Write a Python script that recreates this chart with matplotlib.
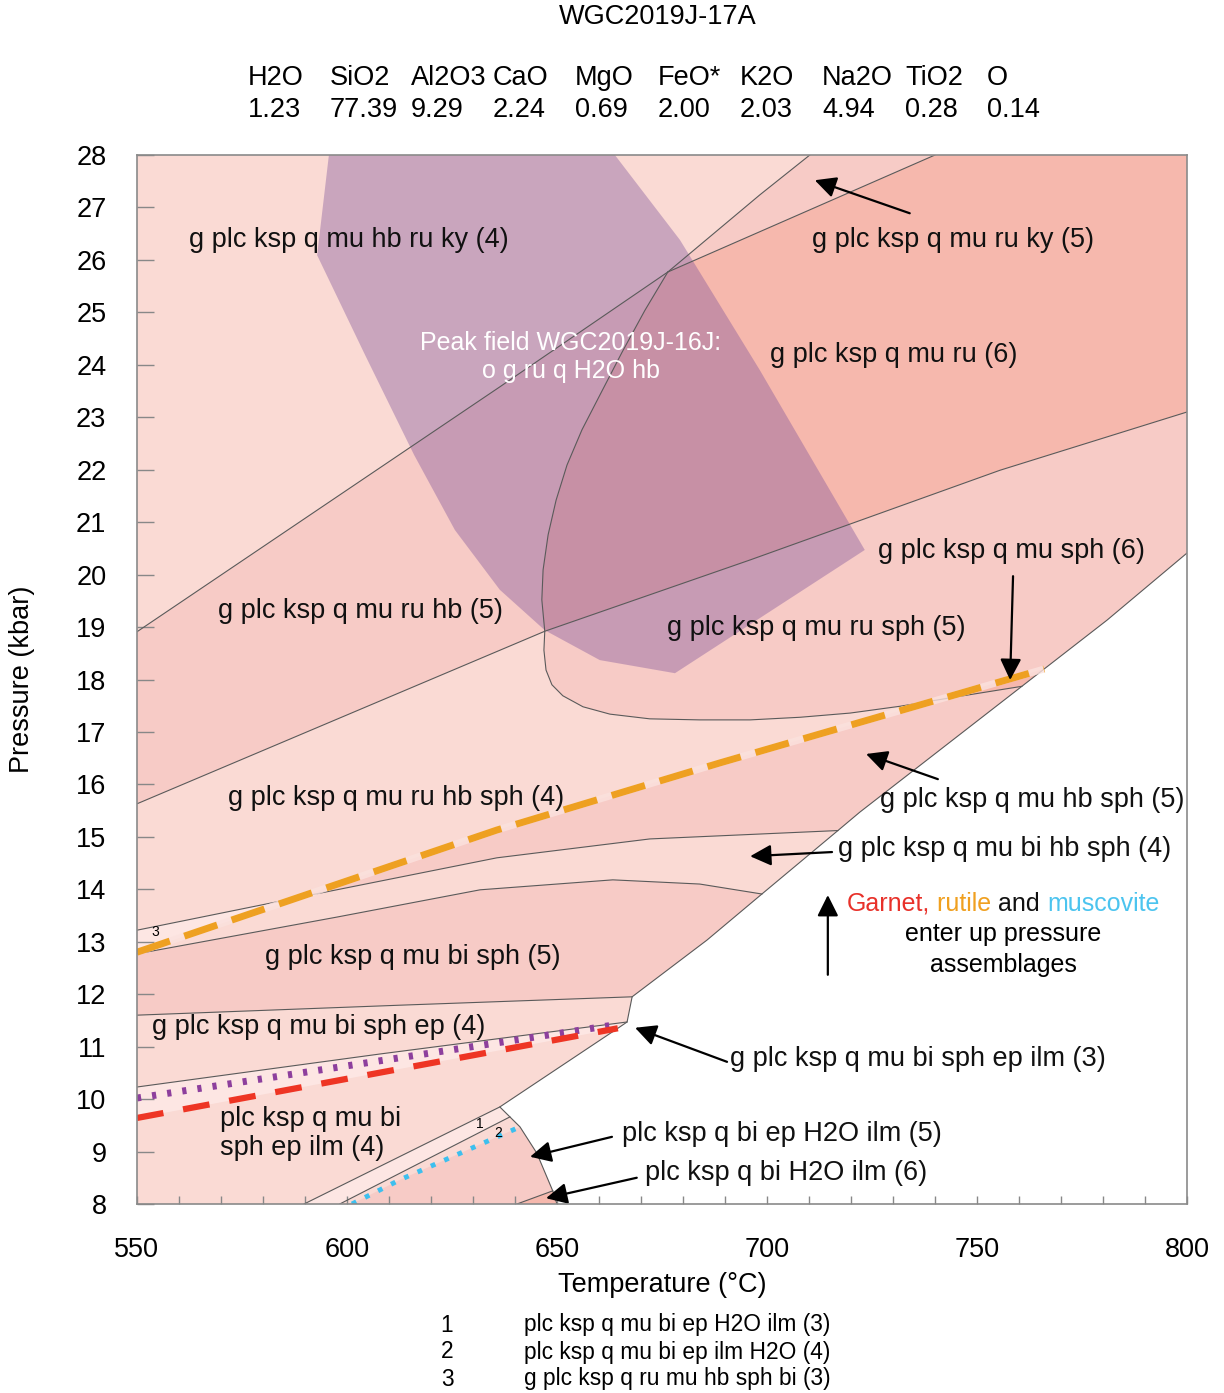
import numpy as np
import matplotlib
matplotlib.use('Agg')
import matplotlib.pyplot as plt
from matplotlib.patches import Polygon

plt.rcParams['font.family'] = ['Liberation Sans', 'DejaVu Sans']

# bulk composition header
oxides = ['H2O', 'SiO2', 'Al2O3', 'CaO', 'MgO', 'FeO*', 'K2O', 'Na2O', 'TiO2', 'O']
amounts = ['1.23', '77.39', '9.29', '2.24', '0.69', '2.00', '2.03', '4.94', '0.28', '0.14']

# field boundaries: T (C), P (kbar)
a_T = [550, 636.4, 676.4, 698.3, 710.2]
a_P = [18.91, 23.58, 25.77, 27.24, 28.0]
c_T = [676.4, 740.0]
c_P = [25.77, 28.0]
b_T = [550, 647.1, 696.0, 755.5, 800]
b_P = [15.63, 18.92, 20.28, 21.99, 23.10]
bell_T = [676.4, 670.95, 665.5, 660.2, 655.95, 652.4, 649.8, 647.9, 646.7, 646.4,
          647.1, 646.9, 647.4, 648.8, 651.4, 656.2, 662.6, 672.1, 684.0, 696.0,
          707.9, 719.8, 731.7, 743.6, 760.7]
bell_P = [25.77, 25.04, 24.24, 23.42, 22.76, 22.09, 21.42, 20.76, 20.09, 19.52,
          18.92, 18.56, 18.18, 17.90, 17.69, 17.48, 17.34, 17.25, 17.23, 17.23,
          17.28, 17.36, 17.49, 17.65, 17.87]
ru_T = [550, 635.7, 688.8, 766.0]          # rutile out (orange)
ru_P = [12.80, 15.13, 16.41, 18.20]
l1_T = [550, 588.8, 635.7, 672.1, 716.9]
l1_P = [13.22, 13.85, 14.60, 14.96, 15.12]
l2_T = [550, 597.6, 631.7, 663.3, 684.0, 698.8]
l2_P = [12.77, 13.47, 13.99, 14.18, 14.10, 13.91]
l3_T = [550, 612.6, 667.9]
l3_P = [11.60, 11.79, 11.95]
l4_T = [550, 607.9, 666.7]
l4_P = [10.23, 10.86, 11.47]
g_T = [550, 664.5]                          # garnet out (red)
g_P = [9.64, 11.35]
pur_T = [550, 663.3]                        # purple dotted
pur_P = [10.02, 11.41]
l5_T = [589.8, 636.4]
l5_P = [8.0, 9.85]
l6_T = [598.3, 638.8]
l6_P = [8.0, 9.66]
mu_T = [601.2, 612.6, 641.2]                # muscovite out (cyan)
mu_P = [8.0, 8.46, 9.47]
l7_T = [640.5, 649.0]
l7_P = [8.0, 8.25]
edge_T = [800, 780.95, 766.0, 760.7, 722.1, 716.9, 698.8, 685.7, 667.9,
          666.7, 664.5, 636.4, 638.8, 641.2, 645.2, 649.0, 650.0]
edge_P = [20.41, 19.13, 18.20, 17.87, 15.47, 15.12, 13.91, 13.03, 11.95,
          11.47, 11.35, 9.85, 9.66, 9.47, 8.97, 8.25, 8.0]
peak_T = [595.7, 592.9, 604.3, 616.0, 625.7, 636.4, 647.1, 660.2, 678.1,
          723.3, 698.3, 679.3, 663.8]
peak_P = [28.0, 26.09, 24.19, 22.28, 20.85, 19.71, 18.94, 18.37, 18.12,
          20.47, 23.90, 26.38, 28.0]

V3, V4, V5, V6 = '#fde6e3', '#fadad4', '#f7cbc6', '#f6b8ad'
Q2 = 10   # index of the bell curve point lying on line b


def pts(T, P):
    return np.column_stack([T, P])


def cross(t1, p1, t2, p2):
    tt = np.linspace(max(t1[0], t2[0]), min(t1[-1], t2[-1]), 4000)
    d = np.interp(tt, t1, p1) - np.interp(tt, t2, p2)
    i = np.where(np.diff(np.sign(d)) != 0)[0][0]
    return tt[i], np.interp(tt[i], t1, p1)


fig = plt.figure(figsize=(12.24, 13.93), dpi=100)
ax = fig.add_axes([0.1119, 0.1357, 0.8578, 0.7530])
ax.set_xlim(550, 800)
ax.set_ylim(8, 28)

# stable area (white beyond the right edge)
stable = Polygon(np.vstack([[(550, 8), (550, 28), (800, 28)], pts(edge_T, edge_P)]),
                 closed=True, fc=V4, ec='none', zorder=0)
ax.add_patch(stable)


def fill(xy, color, z=1, **kw):
    p = Polygon(xy, closed=True, fc=color, ec='none', zorder=z, **kw)
    ax.add_patch(p)
    p.set_clip_path(stable)


bT, bP = np.array(b_T), np.array(b_P)
eT, eP = np.array(bell_T), np.array(bell_P)
rT, rP = np.array(ru_T), np.array(ru_P)
t1, p1 = np.array(l1_T), np.array(l1_P)
rbT, rbP = eT[Q2 + 1:], eP[Q2 + 1:]     # lower-right branch of the bell curve

# g plc ksp q mu ru hb (5)
fill(np.vstack([pts(a_T[:3], a_P[:3]), pts(eT[1:Q2 + 1], eP[1:Q2 + 1]), pts(bT[:1], bP[:1])]), V5)
# g plc ksp q mu ru ky (5)
fill(np.vstack([pts(a_T[2:], a_P[2:]), pts(c_T[::-1], c_P[::-1])]), V5)
# g plc ksp q mu ru (6)
fill(np.vstack([pts(c_T, c_P), [(800, 28)], pts(bT[:0:-1], bP[:0:-1]),
                pts(eT[Q2::-1], eP[Q2::-1])]), V6)
# g plc ksp q mu ru sph (5)
fill(np.vstack([pts(bT[1:], bP[1:]), [(800, eP[-1])], pts(eT[:Q2 - 1:-1], eP[:Q2 - 1:-1])]), V5)

# rutile-out crossings
x1 = cross(l1_T, l1_P, ru_T, ru_P)
x2 = cross(rbT, rbP, ru_T, ru_P)

# g plc ksp q mu hb sph (5)
fill(np.vstack([[x1], pts(rT[rT > x1[0]], rP[rT > x1[0]]), [(800, rP[-1]), (800, p1[-1])],
                pts(t1[t1 > x1[0]][::-1], p1[t1 > x1[0]][::-1])]), V5)
# g plc ksp q mu sph (6)
sel = rbT > x2[0]
fill(np.vstack([[x2], pts(rT[rT > x2[0]], rP[rT > x2[0]]),
                pts(rbT[sel][::-1], rbP[sel][::-1])]), V6)
# field 3
fill(np.vstack([pts(t1[t1 < x1[0]], p1[t1 < x1[0]]), [x1],
                pts(rT[rT < x1[0]][::-1], rP[rT < x1[0]][::-1])]), V3)
# g plc ksp q mu bi sph (5)
fill(np.vstack([pts(l2_T, l2_P), [(800, l2_P[-1]), (800, l3_P[-1])],
                pts(l3_T[::-1], l3_P[::-1])]), V5)
# g plc ksp q mu bi sph ep ilm (3)
fill(np.vstack([pts(l4_T, l4_P), pts(g_T[::-1], g_P[::-1])]), V3)
# field 1
fill(np.vstack([pts(l5_T, l5_P), pts(l6_T[::-1], l6_P[::-1])]), V3)
# plc ksp q bi ep H2O ilm (5)
fill(np.vstack([pts(mu_T, mu_P), [(660, mu_P[-1]), (660, 8.0)]]), V5)
# plc ksp q bi H2O ilm (6)
fill(np.vstack([pts(l7_T, l7_P), [(660, l7_P[-1]), (660, 8.0)]]), V6)

# peak field of WGC2019J-16J
fill(pts(peak_T, peak_P), '#7b4f98', z=2, alpha=0.38)

# thin field boundaries
for T, P in [(a_T, a_P), (c_T, c_P), (b_T, b_P), (bell_T, bell_P), (l1_T, l1_P),
             (l2_T, l2_P), (l3_T, l3_P), (l4_T, l4_P), (l5_T, l5_P), (l6_T, l6_P),
             (l7_T, l7_P), (edge_T, edge_P)]:
    ax.plot(T, P, color='#5a5a5a', lw=0.8, zorder=3, solid_joinstyle='round')

# mineral-in lines
ax.plot(ru_T, ru_P, color='#fbe2de', lw=5, alpha=0.8, zorder=3, solid_capstyle='butt')
ax.plot(ru_T, ru_P, color='#eea021', lw=5, dashes=(5, 2.2), zorder=4)
ax.plot(pur_T, pur_P, color='#8d3f9d', lw=5, dashes=(0.6, 1.6), zorder=4)
ax.plot(g_T, g_P, color='#ee3524', lw=4.5, dashes=(4.3, 3.2), zorder=4)
ax.plot(mu_T, mu_P, color='#3dbfee', lw=3.5, dashes=(1.0, 2.0), zorder=4)

fs = 19.5
labels = [
    ('g plc ksp q mu hb ru ky (4)', 562.4, 26.38),
    ('g plc ksp q mu ru ky (5)', 710.7, 26.38),
    ('g plc ksp q mu ru (6)', 700.7, 24.19),
    ('g plc ksp q mu sph (6)', 726.4, 20.45),
    ('g plc ksp q mu ru hb (5)', 569.3, 19.31),
    ('g plc ksp q mu ru sph (5)', 676.2, 18.98),
    ('g plc ksp q mu ru hb sph (4)', 571.7, 15.74),
    ('g plc ksp q mu hb sph (5)', 726.9, 15.70),
    ('g plc ksp q mu bi hb sph (4)', 716.9, 14.77),
    ('g plc ksp q mu bi sph (5)', 580.5, 12.71),
    ('g plc ksp q mu bi sph ep (4)', 553.6, 11.37),
    ('g plc ksp q mu bi sph ep ilm (3)', 691.2, 10.76),
    ('plc ksp q mu bi\nsph ep ilm (4)', 569.8, 9.35),
    ('plc ksp q bi ep H2O ilm (5)', 665.5, 9.33),
    ('plc ksp q bi H2O ilm (6)', 671.0, 8.59),
]
for s, T, P in labels:
    ax.text(T, P, s, fontsize=fs, ha='left', va='center', color='#111111',
            zorder=6, linespacing=1.15, clip_on=False)

ax.text(653.3, 24.15, 'Peak field WGC2019J-16J:\no g ru q H2O hb', fontsize=18,
        color='white', ha='center', va='center', zorder=6, linespacing=1.2)

for s, T, P in [('3', 554.3, 13.19), ('1', 631.7, 9.53), ('2', 636.0, 9.35)]:
    ax.text(T, P, s, fontsize=10, ha='center', va='center', zorder=6)

# note on up-pressure assemblages
t = ax.text(719.05, 13.72, 'Garnet,', fontsize=18, color='#e8312a', va='center', zorder=6)
t = ax.annotate(' rutile', xy=(1, 0), xycoords=t, va='bottom', fontsize=18, color='#f0a020')
t = ax.annotate(' and ', xy=(1, 0), xycoords=t, va='bottom', fontsize=18, color='#111111')
ax.annotate('muscovite', xy=(1, 0), xycoords=t, va='bottom', fontsize=18, color='#4cc4ef')
ax.text(756.2, 13.15, 'enter up pressure', fontsize=18, ha='center', va='center')
ax.text(756.2, 12.56, 'assemblages', fontsize=18, ha='center', va='center')

arrows = [
    ((734.0, 26.89), (711.4, 27.52)),
    ((758.6, 19.97), (757.9, 17.99)),
    ((740.7, 16.10), (723.6, 16.58)),
    ((715.5, 14.71), (696.0, 14.63)),
    ((714.5, 12.37), (714.5, 13.89)),
    ((690.5, 10.71), (668.6, 11.36)),
    ((663.1, 9.28), (643.6, 8.90)),
    ((669.0, 8.50), (647.4, 8.11)),
]
for tail, head in arrows:
    ax.annotate('', xy=head, xytext=tail, zorder=7,
                arrowprops=dict(arrowstyle='-|>', color='black', lw=1.6,
                                mutation_scale=32, shrinkA=0, shrinkB=0))

# axes styling
ax.set_xticks(np.arange(550, 801, 50))
ax.set_xticks(np.arange(550, 801, 10), minor=True)
ax.set_yticks(np.arange(8, 29, 1))
ax.tick_params(axis='both', which='both', direction='in', colors='#888888',
               labelcolor='black', labelsize=fs, width=1.0)
ax.tick_params(axis='x', which='both', length=6, pad=24)
ax.tick_params(axis='y', which='major', length=12, pad=22)
for sp in ax.spines.values():
    sp.set_color('#8a8a8a')
    sp.set_linewidth(1.2)
    sp.set_zorder(8)
ax.set_xlabel('Temperature (°C)', fontsize=fs)
ax.set_ylabel('Pressure (kbar)', fontsize=fs)
ax.xaxis.set_label_coords(0.5, -0.0648)
ax.yaxis.set_label_coords(-0.097, 0.5)

fig.text(658 / 1224, 1 - 17 / 1393, 'WGC2019J-17A', fontsize=fs, ha='center', va='center')
ox_x = [248, 330, 411, 493, 575, 658, 740, 822, 905, 987]
for x, name, val in zip(ox_x, oxides, amounts):
    fig.text(x / 1224, 1 - 78 / 1393, name, fontsize=fs, ha='left', va='center')
    fig.text(x / 1224, 1 - 110 / 1393, val, fontsize=fs, ha='left', va='center')

legend_ids = ['1', '2', '3']
legend_names = ['plc ksp q mu bi ep H2O ilm (3)', 'plc ksp q mu bi ep ilm H2O (4)',
                'g plc ksp q ru mu hb sph bi (3)']
for k, (n, s) in enumerate(zip(legend_ids, legend_names)):
    y = 1 - (1325 + 27 * k) / 1393
    fig.text(447 / 1224, y, n, fontsize=16.4, ha='center', va='center')
    fig.text(524 / 1224, y, s, fontsize=16.4, ha='left', va='center')

fig.savefig('out.png', dpi=100)
